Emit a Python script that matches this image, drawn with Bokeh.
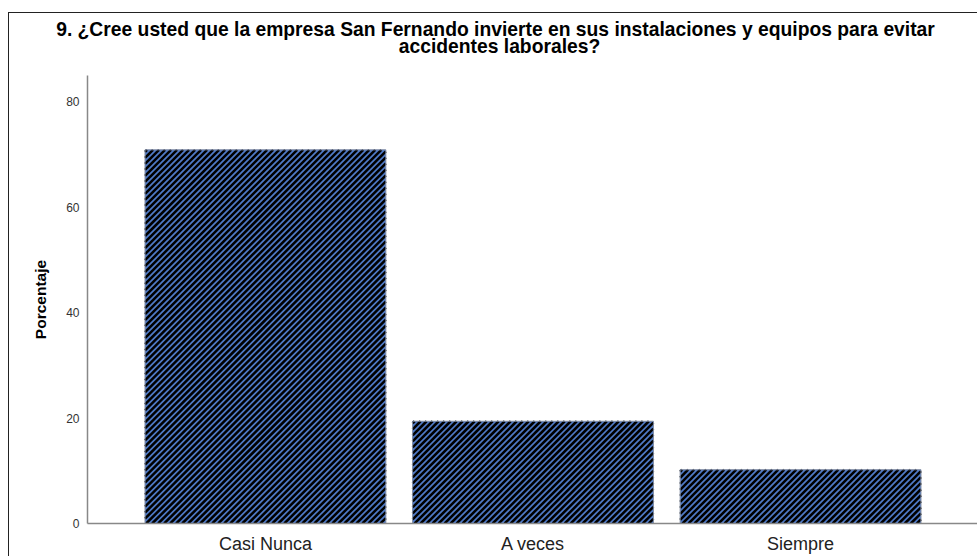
from bokeh.plotting import figure
from bokeh.models import FactorRange, Range1d, ColumnDataSource
from bokeh.core.properties import value
from bokeh.embed import file_html
from bokeh.resources import INLINE

categories = ["Casi Nunca", "A veces", "Siempre"]
percentages = [70.9, 19.4, 10.2]
y_ticks = [0, 20, 40, 60, 80]
title_lines = [
    "9. ¿Cree usted que la empresa San Fernando invierte en sus instalaciones y equipos para evitar",
    "accidentes laborales?",
]

# layout constants (pixels)
FIG_W, FIG_H = 969, 544
BORDER_L, BORDER_R, BORDER_T, BORDER_B = 78, 0, 62, 34
TITLE_W, TITLE_H = 968, 62
PAD = 0.165
Y_MAX = 85
BAR_W = 0.9
STRIPE_STEP = 6.0

# ---- main chart ----
source = ColumnDataSource(data=dict(cat=categories, pct=percentages))

p = figure(
    x_range=FactorRange(factors=categories, range_padding=PAD, range_padding_units="absolute"),
    y_range=Range1d(0, Y_MAX),
    width=FIG_W, height=FIG_H,
    output_backend="svg", toolbar_location=None,
    title=None,
    min_border_left=BORDER_L, min_border_right=BORDER_R,
    min_border_top=BORDER_T, min_border_bottom=BORDER_B,
)
p.styles = {"border-left": "1px solid #222", "border-top": "1px solid #222",
            "margin-left": "8px", "margin-top": "12px"}

# bars: blue fill
p.vbar(x="cat", top="pct", width=BAR_W, source=source,
       fill_color="#4f7ac7", line_color=None)

# black diagonal stripes, derived from the bar values
frame_w = FIG_W - BORDER_L - BORDER_R - 1
frame_h = FIG_H - BORDER_T - BORDER_B - 1
xpx = frame_w / (len(categories) + 2 * PAD)
ypx = frame_h / Y_MAX
xs, ys = [], []
for i, v in enumerate(percentages):
    left = (i + 0.5 - BAR_W / 2) * xpx
    right = (i + 0.5 + BAR_W / 2) * xpx
    top = v * ypx
    c = left - top + 2.0
    while c < right:
        x0 = max(left, c)
        x1 = min(right, c + top)
        if x1 > x0:
            xs.append([x0 / xpx, x1 / xpx])
            ys.append([(x0 - c) / ypx, (x1 - c) / ypx])
        c += STRIPE_STEP
p.multi_line(xs=xs, ys=ys, line_color="#000000", line_width=2.5, line_cap="butt")

# bar outline
p.vbar(x="cat", top="pct", width=BAR_W, source=source,
       fill_color=None, line_color="#7f8aa0", line_width=1)

p.outline_line_color = None
p.xgrid.grid_line_color = None
p.ygrid.grid_line_color = None

p.yaxis.ticker = y_ticks
p.yaxis.axis_label = "Porcentaje"
p.yaxis.axis_label_text_font = "Liberation Sans"
p.yaxis.axis_label_text_font_size = "15.5px"
p.yaxis.axis_label_text_font_style = "bold"
p.yaxis.axis_label_text_color = "#000000"
p.yaxis.axis_label_standoff = 14
p.yaxis.major_label_text_font = "Liberation Sans"
p.yaxis.major_label_text_font_size = "12px"
p.yaxis.major_label_text_color = "#333333"
p.yaxis.major_label_standoff = 2
p.yaxis.major_tick_line_color = None
p.yaxis.minor_tick_line_color = None
p.yaxis.axis_line_color = "#888888"
p.yaxis.axis_line_width = 1.5

p.xaxis.major_label_text_font = "Liberation Sans"
p.xaxis.major_label_text_font_size = "18px"
p.xaxis.major_label_text_color = "#222222"
p.xaxis.major_label_standoff = 4
p.xaxis.major_tick_line_color = None
p.xaxis.minor_tick_line_color = None
p.xaxis.axis_line_color = "#888888"
p.xaxis.axis_line_width = 1.5
p.xaxis.major_label_orientation = "horizontal"

# ---- title strip: its own svg figure laid over the empty top band ----
tf = figure(width=TITLE_W, height=TITLE_H, x_range=Range1d(0, TITLE_W), y_range=Range1d(0, TITLE_H),
            x_axis_type=None, y_axis_type=None, output_backend="svg",
            toolbar_location=None, title=None,
            min_border_left=0, min_border_right=0, min_border_top=0, min_border_bottom=0)
tf.outline_line_color = None
tf.background_fill_color = None
tf.border_fill_color = None
tf.xgrid.visible = False
tf.ygrid.visible = False
tf.text(x=[486, 490], y=[TITLE_H - 16, TITLE_H - 33], text=title_lines,
        text_align="center", text_baseline="middle",
        text_font=value("Liberation Sans"), text_font_size=value("19.3px"),
        text_font_style="bold", text_color="#000000")
tf.styles = {"position": "absolute", "left": "9px", "top": "13px"}

open("out.html", "w").write(file_html([p, tf], INLINE))
